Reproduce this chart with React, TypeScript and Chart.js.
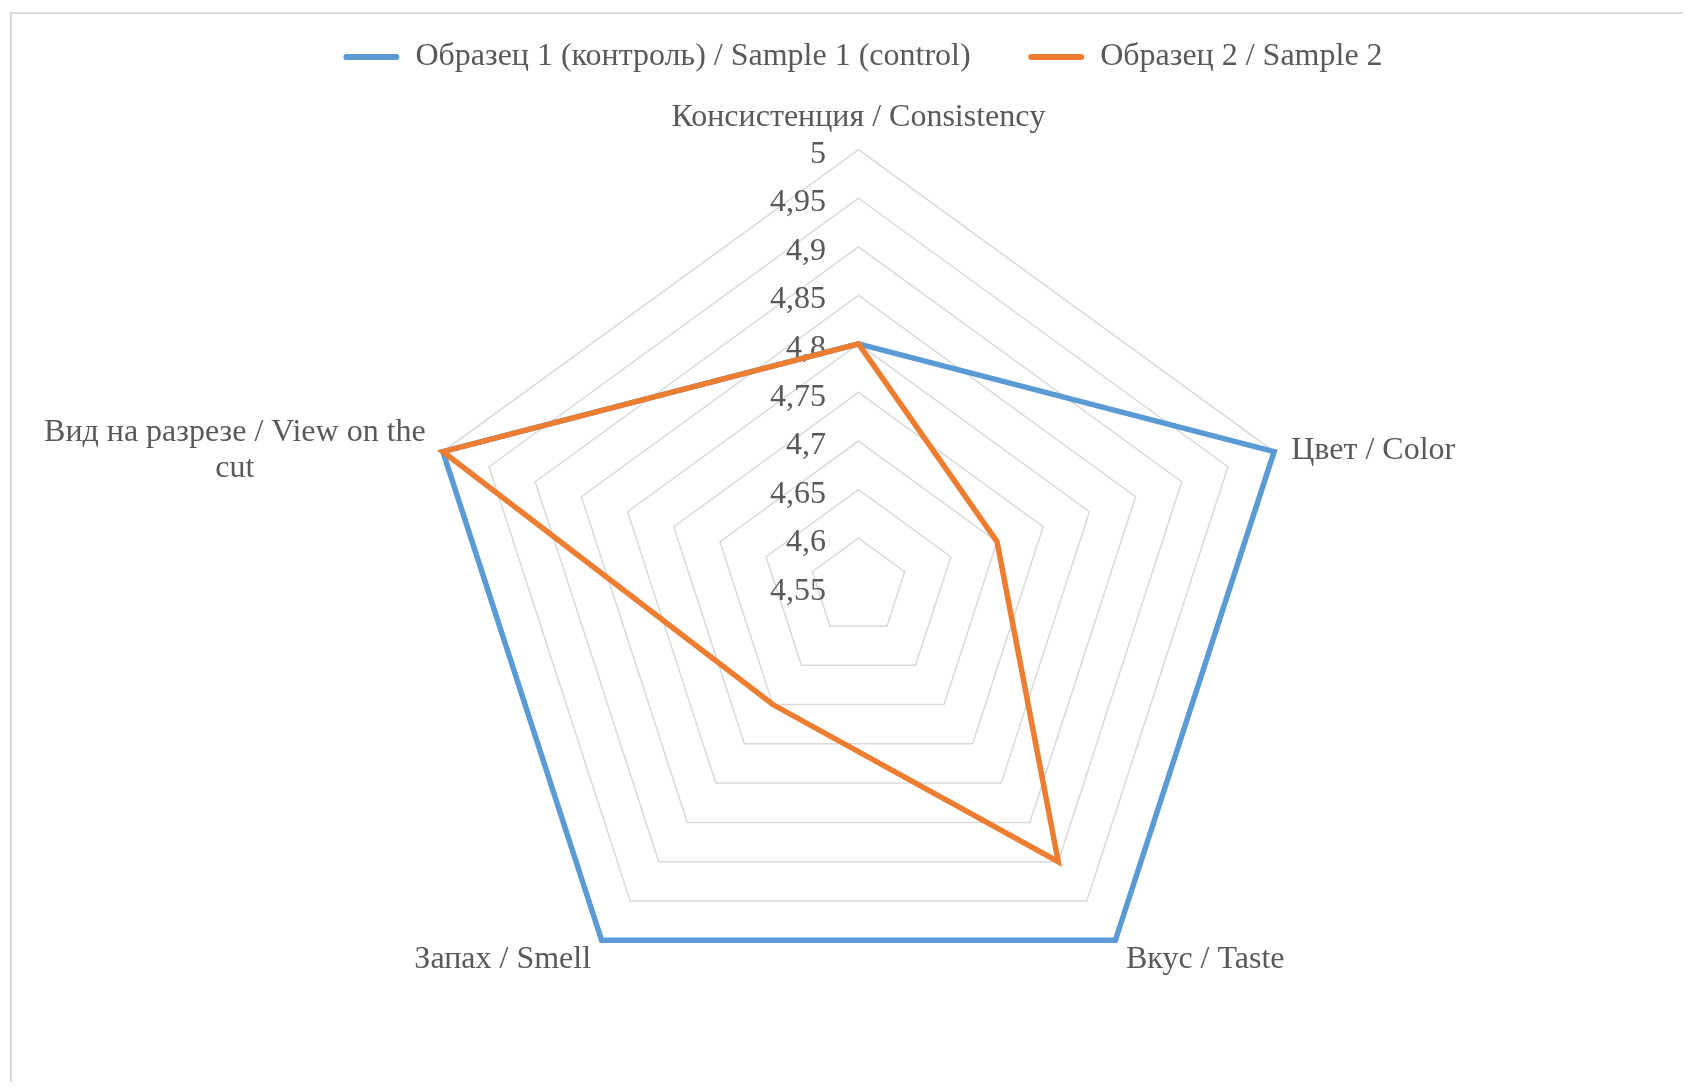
import React, { useEffect, useRef } from 'react';
import { Chart, registerables } from 'chart.js';

Chart.register(...registerables);

// ---- data ----
const categories: (string | string[])[] = [
  'Консистенция / Consistency',
  'Цвет / Color',
  'Вкус / Taste',
  'Запах / Smell',
  ['Вид на разрезе / View on the', 'cut'],
];
const seriesNames = ['Образец 1 (контроль) / Sample 1 (control)', 'Образец 2 / Sample 2'];
const sample1 = [4.8, 5, 5, 5, 5];
const sample2 = [4.8, 4.7, 4.9, 4.7, 5];
const axisMin = 4.55;
const axisMax = 5;
const axisStep = 0.05;

// ---- style ----
const FONT = '"Liberation Serif", "Times New Roman", serif';
const FS = 32;
const TEXT = '#595959';
const CAP = FS * 0.331 + 2.5;
const LH = 36;
const BLUE = '#5B9BD5';
const ORANGE = '#ED7D31';
const W = 1683;
const H = 1074;

const fmt = (v: number) => String(parseFloat(v.toFixed(2))).replace('.', ',');

const labelsPlugin = {
  id: 'excelLabels',
  beforeDatasetsDraw(chart: any) {
    const scale = chart.scales.r;
    const ctx = chart.ctx as CanvasRenderingContext2D;
    ctx.save();
    ctx.fillStyle = TEXT;
    ctx.font = `${FS}px ${FONT}`;
    ctx.textBaseline = 'alphabetic';
    // tick labels, right-aligned left of the vertical axis
    ctx.textAlign = 'right';
    scale.ticks.forEach((t: any) => {
      const d = scale.getDistanceFromCenterForValue(t.value);
      ctx.fillText(fmt(t.value), scale.xCenter - 32.5, scale.yCenter - d + CAP);
    });
    // category labels
    ctx.textAlign = 'center';
    const labels = chart.data.labels as (string | string[])[];
    labels.forEach((raw, i) => {
      const lines = Array.isArray(raw) ? raw : [raw];
      const pos = scale.getPointPosition(i, scale.drawingArea + 18);
      const dx = pos.x - scale.xCenter;
      const bw = Math.max(...lines.map((l) => ctx.measureText(l).width));
      const h = (lines.length - 1) * LH;
      let cx: number;
      let first: number;
      if (Math.abs(dx) < 1) {
        cx = pos.x;
        first = pos.y < scale.yCenter ? pos.y - 6 - h : pos.y + FS * 0.7;
      } else {
        cx = dx > 0 ? pos.x + bw / 2 : pos.x - bw / 2;
        first = pos.y - h / 2 + CAP;
      }
      lines.forEach((l, k) => ctx.fillText(l, cx, first + k * LH));
    });
    ctx.restore();
  },
};

export default function App() {
  const ref = useRef<HTMLCanvasElement | null>(null);

  useEffect(() => {
    if (!ref.current) return;
    const chart = new Chart(ref.current, {
      type: 'radar',
      data: {
        labels: categories as any,
        datasets: [
          {
            label: seriesNames[0],
            data: sample1,
            borderColor: BLUE,
            backgroundColor: BLUE,
            borderWidth: 5.5,
            pointRadius: 0,
            pointHoverRadius: 0,
            fill: false,
            order: 1,
            clip: false as any,
            borderJoinStyle: 'miter',
          },
          {
            label: seriesNames[1],
            data: sample2,
            borderColor: ORANGE,
            backgroundColor: ORANGE,
            borderWidth: 5.5,
            pointRadius: 0,
            pointHoverRadius: 0,
            fill: false,
            order: 0,
            clip: false as any,
            borderJoinStyle: 'miter',
          },
        ],
      },
      options: {
        responsive: false,
        animation: false,
        layout: { padding: { left: 27, top: -24.5 } },
        plugins: {
          tooltip: { enabled: false },
          legend: {
            position: 'top',
            labels: {
              boxWidth: 56,
              boxHeight: 6,
              padding: 57.5,
              color: TEXT,
              font: { family: FONT, size: FS },
              useBorderRadius: true,
              borderRadius: 3,
              generateLabels: (c: any) =>
                c.data.datasets.map((ds: any, i: number) => ({
                  text: ds.label,
                  fillStyle: ds.borderColor,
                  strokeStyle: ds.borderColor,
                  lineWidth: 0,
                  hidden: false,
                  datasetIndex: i,
                  fontColor: TEXT,
                  borderRadius: 3,
                })),
            },
          },
        },
        scales: {
          r: {
            min: axisMin,
            max: axisMax,
            beginAtZero: false,
            ticks: { stepSize: axisStep, display: false },
            grid: { color: '#D9D9D9', lineWidth: 1.5 },
            angleLines: { display: false },
            pointLabels: { display: false },
            afterFit: (scale: any) => {
              scale.xCenter = 850.5;
              scale.yCenter = 578.7;
              scale.drawingArea = 437;
            },
          } as any,
        },
      },
      plugins: [labelsPlugin],
    });
    return () => chart.destroy();
  }, []);

  return (
    <div style={{ position: 'relative', width: W, height: H }}>
      <div
        style={{
          position: 'absolute',
          left: 2,
          top: 3.5,
          right: 0,
          bottom: 0,
          borderTop: '2px solid #D9D9D9',
          borderLeft: '2px solid #D9D9D9',
        }}
      />
      <canvas ref={ref} width={W} height={H} style={{ position: 'absolute', left: 0, top: 0 }} />
    </div>
  );
}
